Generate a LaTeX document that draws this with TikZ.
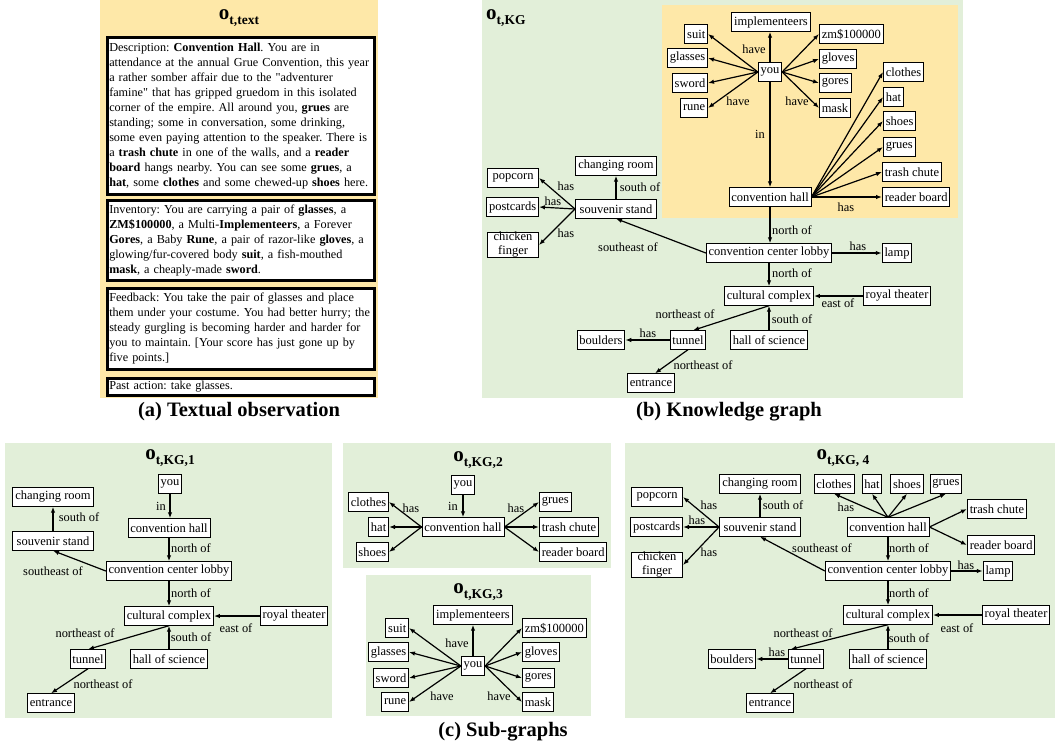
\documentclass[tikz,border=0pt]{standalone}
\usepackage{fontspec}
\setmainfont{Liberation Serif}
\usetikzlibrary{arrows.meta}
\definecolor{pgreen}{HTML}{E2EFD9}
\definecolor{pyellow}{HTML}{FEE8A8}
\newcommand{\obsT}[1]{{\fontsize{21}{21}\selectfont\bfseries o}\raisebox{-5pt}{\fontsize{13.5}{13.5}\selectfont\bfseries #1}}
\newcommand{\sq}{\XeTeXglyph\XeTeXglyphindex "quotedbl"\relax}
\frenchspacing
\tikzset{
 nd/.style={draw=black, fill=white, line width=0.9pt, inner xsep=2.3pt, inner ysep=0pt, minimum height=18.5pt, font=\fontsize{12.5}{14}\selectfont},
 ar/.style={-{Latex[length=6pt,width=4.5pt]}, line width=1.2pt},
 lbl/.style={inner sep=0pt, font=\fontsize{12.4}{14}\selectfont},
 tbox/.style={draw=black, fill=white, line width=2.5pt, inner xsep=2pt, inner ysep=2pt, anchor=north west, text width=263pt, align=left, font=\fontsize{12.2}{15}\selectfont\frenchspacing},
 captxt/.style={font=\fontsize{20.5}{24}\selectfont\bfseries, inner sep=0pt},
 ttl/.style={inner sep=0pt}
}
\begin{document}
\begin{tikzpicture}[x=1pt,y=-1pt]
\useasboundingbox (0,0) rectangle (1055,748);
% ---------------- panel (a)
\fill[pyellow] (100,0) rectangle (378,398);
\node[ttl] (ta) at (239,18) {\obsT{t,text}};
\node[tbox, minimum height=157pt] (desc) at (106,36) {Description: \textbf{Convention Hall}. You are in\\
attendance at the annual Grue Convention, this year\\
a rather somber affair due to the \sq adventurer\\
famine\sq{} that has gripped gruedom in this isolated\\
corner of the empire. All around you, \textbf{grues} are\\
standing; some in conversation, some drinking,\\
some even paying attention to the speaker. There is\\
a \textbf{trash chute} in one of the walls, and a \textbf{reader}\\
\textbf{board} hangs nearby. You can see some \textbf{grues}, a\\
\textbf{hat}, some \textbf{clothes} and some chewed-up \textbf{shoes} here.};
\node[tbox, minimum height=80pt] (inv) at (106,199) {Inventory: You are carrying a pair of \textbf{glasses}, a\\
\textbf{ZM\$100000}, a Multi-\textbf{Implementeers}, a Forever\\
\textbf{Gores}, a Baby \textbf{Rune}, a pair of razor-like \textbf{gloves}, a\\
glowing/fur-covered body \textbf{suit}, a fish-mouthed\\
\textbf{mask}, a cheaply-made \textbf{sword}.};
\node[tbox, minimum height=81pt] (fb) at (106,287) {Feedback: You take the pair of glasses and place\\
them under your costume. You had better hurry; the\\
steady gurgling is becoming harder and harder for\\
you to maintain. [Your score has just gone up by\\
five points.]};
\node[tbox, minimum height=17pt, inner ysep=0pt] (pa) at (106,377) {Past action: take glasses.};
\node[captxt] (capa) at (239,412) {(a) Textual observation};
% ---------------- panel (b)
\fill[pgreen] (482,0) rectangle (963,398);
\fill[pyellow] (662,5) rectangle (958,218);
\node[ttl, anchor=west] (tb) at (486,18) {\obsT{t,KG}};
\node[nd] (b-impl) at (771,22) {implementeers};
\node[nd, anchor=east] (b-suit) at (708,34) {suit};
\node[nd, anchor=east] (b-glasses) at (708,58) {glasses};
\node[nd, anchor=east] (b-sword) at (708,83) {sword};
\node[nd, anchor=east] (b-rune) at (708,108) {rune};
\node[nd] (b-you) at (770,72) {you};
\node[nd, anchor=west] (b-zm) at (819,34) {zm\$100000};
\node[nd, anchor=west] (b-gloves) at (819,59) {gloves};
\node[nd, anchor=west] (b-gores) at (819,83) {gores};
\node[nd, anchor=west] (b-mask) at (819,108) {mask};
\node[nd, anchor=west] (b-clothes) at (883,72) {clothes};
\node[nd, anchor=west] (b-hat) at (883,97) {hat};
\node[nd, anchor=west] (b-shoes) at (883,121) {shoes};
\node[nd, anchor=west] (b-grues) at (883,147) {grues};
\node[nd, anchor=west] (b-trash) at (882,172) {trash chute};
\node[nd, anchor=west] (b-reader) at (882,197) {reader board};
\node[nd] (b-ch) at (770,197) {convention hall};
\node[nd, minimum width=81pt] (b-cr) at (616,166) {changing room};
\node[nd, minimum width=81pt] (b-souv) at (616,209) {souvenir stand};
\node[nd, minimum width=51pt, anchor=east] (b-pop) at (539,178) {popcorn};
\node[nd, minimum width=51pt, anchor=east] (b-post) at (539,207) {postcards};
\node[nd, minimum width=51pt, anchor=east, align=center] (b-chick) at (539,245) {chicken\\finger};
\node[nd] (b-lobby) at (769,253) {convention center lobby};
\node[nd] (b-lamp) at (897,253) {lamp};
\node[nd] (b-cc) at (769,296) {cultural complex};
\node[nd] (b-rt) at (897,296) {royal theater};
\node[nd] (b-hos) at (769,340) {hall of science};
\node[nd] (b-tunnel) at (688,340) {tunnel};
\node[nd] (b-boulders) at (601,340) {boulders};
\node[nd] (b-entrance) at (651,383) {entrance};
\draw[ar] (b-you.north) -- (b-you.north |- b-impl.south);
\foreach \t in {suit,glasses,sword,rune} \draw[ar] (b-you.west) -- (b-\t.east);
\foreach \t in {zm,gloves,gores,mask} \draw[ar] (b-you.east) -- (b-\t.west);
\draw[ar] (b-you.south) -- (b-you.south |- b-ch.north);
\foreach \t in {clothes,hat,shoes,grues,trash,reader} \draw[ar] (b-ch.east) -- (b-\t.west);
\draw[ar] (b-ch.south) -- (b-ch.south |- b-lobby.north);
\draw[ar] (b-lobby.south) -- (b-lobby.south |- b-cc.north);
\draw[ar] (b-lobby.east) -- (b-lamp.west);
\draw[ar] (b-rt.west) -- (b-cc.east);
\draw[ar] (b-hos.north) -- (b-hos.north |- b-cc.south);
\draw[ar] (b-cc.south) -- ([xshift=5pt]b-tunnel.north);
\draw[ar] (b-tunnel.west) -- (b-boulders.east);
\draw[ar] (b-tunnel.south) -- ([xshift=4pt]b-entrance.north);
\draw[ar] (b-lobby.west) -- (b-souv.south);
\draw[ar] (b-souv.north) -- (b-souv.north |- b-cr.south);
\foreach \t in {pop,post,chick} \draw[ar] (b-souv.west) -- (b-\t.east);
\node[lbl] at (754,49) {have};
\node[lbl] at (738,101) {have};
\node[lbl] at (797,101) {have};
\node[lbl] at (760,134) {in};
\node[lbl] at (846,207) {has};
\node[lbl] at (566,186) {has};
\node[lbl] at (553,201) {has};
\node[lbl] at (566,233) {has};
\node[lbl] at (640,187) {south of};
\node[lbl] at (628,247) {southeast of};
\node[lbl] at (792,230) {north of};
\node[lbl] at (858,246) {has};
\node[lbl] at (792,273) {north of};
\node[lbl] at (838,303) {east of};
\node[lbl] at (792,319) {south of};
\node[lbl] at (685,314) {northeast of};
\node[lbl] at (648,333) {has};
\node[lbl] at (703,365) {northeast of};
\node[captxt] (capb) at (729,412) {(b) Knowledge graph};
% ---------------- panel c1
\fill[pgreen] (5,443) rectangle (332,718);
\node[ttl] (t1) at (170,458) {\obsT{t,KG,1}};
\node[nd] (c1-you) at (170,484) {you};
\node[nd, minimum width=81pt] (c1-cr) at (53,497) {changing room};
\node[nd] (c1-ch) at (169,528) {convention hall};
\node[nd, minimum width=81pt] (c1-souv) at (53,541) {souvenir stand};
\node[nd] (c1-lobby) at (169,571) {convention center lobby};
\node[nd] (c1-cc) at (169,616) {cultural complex};
\node[nd] (c1-rt) at (294,616) {royal theater};
\node[nd] (c1-tunnel) at (88,659) {tunnel};
\node[nd] (c1-hos) at (169,659) {hall of science};
\node[nd] (c1-entrance) at (51,703) {entrance};
\draw[ar] (c1-you.south) -- (c1-you.south |- c1-ch.north);
\draw[ar] (c1-ch.south) -- (c1-ch.south |- c1-lobby.north);
\draw[ar] (c1-lobby.west) -- (c1-souv.south);
\draw[ar] (c1-souv.north) -- (c1-souv.north |- c1-cr.south);
\draw[ar] (c1-lobby.south) -- (c1-lobby.south |- c1-cc.north);
\draw[ar] (c1-rt.west) -- (c1-cc.east);
\draw[ar] (c1-hos.north) -- (c1-hos.north |- c1-cc.south);
\draw[ar] (c1-cc.south) -- (c1-tunnel.north);
\draw[ar] (c1-tunnel.south) -- (c1-entrance.north);
\node[lbl] at (161,506) {in};
\node[lbl] at (79,517) {south of};
\node[lbl] at (191,548) {north of};
\node[lbl] at (53,571) {southeast of};
\node[lbl] at (191,593) {north of};
\node[lbl] at (236,628) {east of};
\node[lbl] at (85,633) {northeast of};
\node[lbl] at (191,637) {south of};
\node[lbl] at (103,684) {northeast of};
% ---------------- panel c2
\fill[pgreen] (343,443) rectangle (611,568);
\node[ttl] (t2) at (478,460) {\obsT{t,KG,2}};
\node[nd] (c2-you) at (463,485) {you};
\node[nd] (c2-ch) at (463,527) {convention hall};
\node[nd, anchor=east] (c2-clothes) at (389,502) {clothes};
\node[nd, anchor=east] (c2-hat) at (389,527) {hat};
\node[nd, anchor=east] (c2-shoes) at (389,552) {shoes};
\node[nd, anchor=west] (c2-grues) at (539,502) {grues};
\node[nd, anchor=west] (c2-trash) at (539,527) {trash chute};
\node[nd, anchor=west] (c2-reader) at (539,552) {reader board};
\draw[ar] (c2-you.south) -- (c2-you.south |- c2-ch.north);
\foreach \t in {clothes,hat,shoes} \draw[ar] (c2-ch.west) -- (c2-\t.east);
\foreach \t in {grues,trash,reader} \draw[ar] (c2-ch.east) -- (c2-\t.west);
\node[lbl] at (453,506) {in};
\node[lbl] at (411,508) {has};
\node[lbl] at (516,508) {has};
% ---------------- panel c3
\fill[pgreen] (366,575) rectangle (591,716);
\node[ttl] (t3) at (478,592) {\obsT{t,KG,3}};
\node[nd] (c3-impl) at (473,615) {implementeers};
\node[nd] (c3-you) at (473,666) {you};
\node[nd, anchor=east] (c3-suit) at (409,628) {suit};
\node[nd, anchor=east] (c3-glasses) at (409,652) {glasses};
\node[nd, anchor=east] (c3-sword) at (409,678) {sword};
\node[nd, anchor=east] (c3-rune) at (409,702) {rune};
\node[nd, anchor=west] (c3-zm) at (522,628) {zm\$100000};
\node[nd, anchor=west] (c3-gloves) at (522,652) {gloves};
\node[nd, anchor=west] (c3-gores) at (522,678) {gores};
\node[nd, anchor=west] (c3-mask) at (522,702) {mask};
\draw[ar] (c3-you.north) -- (c3-you.north |- c3-impl.south);
\foreach \t in {suit,glasses,sword,rune} \draw[ar] (c3-you.west) -- (c3-\t.east);
\foreach \t in {zm,gloves,gores,mask} \draw[ar] (c3-you.east) -- (c3-\t.west);
\node[lbl] at (457,643) {have};
\node[lbl] at (442,696) {have};
\node[lbl] at (499,696) {have};
% ---------------- panel c4
\fill[pgreen] (625,443) rectangle (1055,718);
\node[ttl] (t4) at (843,458) {\obsT{t,KG, 4}};
\node[nd, minimum width=81pt] (c4-cr) at (760,484) {changing room};
\node[nd, minimum width=81pt] (c4-souv) at (760,527) {souvenir stand};
\node[nd, minimum width=51pt, anchor=east] (c4-pop) at (683,497) {popcorn};
\node[nd, minimum width=51pt, anchor=east] (c4-post) at (683,527) {postcards};
\node[nd, minimum width=51pt, anchor=east, align=center] (c4-chick) at (683,565) {chicken\\finger};
\node[nd] (c4-clothes) at (834,484) {clothes};
\node[nd] (c4-hat) at (872,484) {hat};
\node[nd] (c4-shoes) at (907,484) {shoes};
\node[nd] (c4-grues) at (946,484) {grues};
\node[nd, anchor=west] (c4-trash) at (967,509) {trash chute};
\node[nd] (c4-ch) at (888,527) {convention hall};
\node[nd, anchor=west] (c4-reader) at (967,545) {reader board};
\node[nd] (c4-lobby) at (888,571) {convention center lobby};
\node[nd] (c4-lamp) at (998,571) {lamp};
\node[nd] (c4-cc) at (888,615) {cultural complex};
\node[nd] (c4-rt) at (1016,615) {royal theater};
\node[nd] (c4-tunnel) at (806,659) {tunnel};
\node[nd] (c4-boulders) at (732,659) {boulders};
\node[nd] (c4-hos) at (888,659) {hall of science};
\node[nd] (c4-entrance) at (770,703) {entrance};
\draw[ar] (c4-souv.north) -- (c4-souv.north |- c4-cr.south);
\foreach \t in {pop,post,chick} \draw[ar] (c4-souv.west) -- (c4-\t.east);
\draw[ar] (c4-lobby.west) -- (c4-souv.south);
\foreach \t in {clothes,hat,shoes,grues} \draw[ar] (c4-ch.north) -- (c4-\t.south);
\foreach \t in {trash,reader} \draw[ar] (c4-ch.east) -- (c4-\t.west);
\draw[ar] (c4-ch.south) -- (c4-ch.south |- c4-lobby.north);
\draw[ar] (c4-lobby.east) -- (c4-lamp.west);
\draw[ar] (c4-lobby.south) -- (c4-lobby.south |- c4-cc.north);
\draw[ar] (c4-rt.west) -- (c4-cc.east);
\draw[ar] (c4-hos.north) -- (c4-hos.north |- c4-cc.south);
\draw[ar] (c4-cc.south) -- ([xshift=3pt]c4-tunnel.north west);
\draw[ar] (c4-tunnel.west) -- (c4-boulders.east);
\draw[ar] (c4-tunnel.south) -- (c4-entrance.north);
\node[lbl] at (709,505) {has};
\node[lbl] at (697,520) {has};
\node[lbl] at (709,552) {has};
\node[lbl] at (783,505) {south of};
\node[lbl] at (846,507) {has};
\node[lbl] at (822,548) {southeast of};
\node[lbl] at (909,548) {north of};
\node[lbl] at (966,565) {has};
\node[lbl] at (909,593) {north of};
\node[lbl] at (957,628) {east of};
\node[lbl] at (803,633) {northeast of};
\node[lbl] at (909,638) {south of};
\node[lbl] at (777,652) {has};
\node[lbl] at (823,684) {northeast of};
\node[captxt] (capc) at (503,732) {(c) Sub-graphs};
\end{tikzpicture}
\end{document}
